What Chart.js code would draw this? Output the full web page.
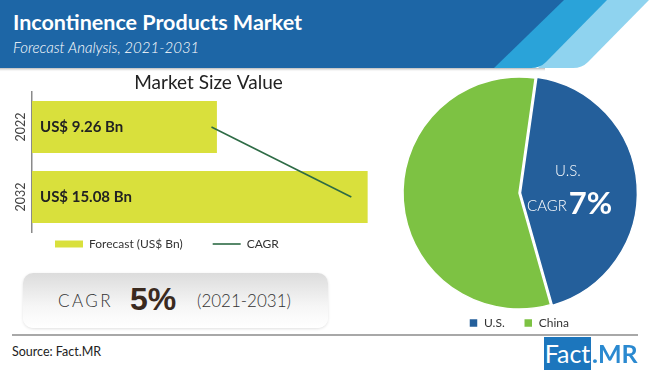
<!DOCTYPE html>
<html>
<head>
<meta charset="utf-8">
<script src="https://cdn.jsdelivr.net/npm/chart.js@4.4.0/dist/chart.umd.min.js"></script>
<style>
  body { margin: 0; width: 650px; height: 370px; overflow: hidden; background: #fff; position: relative; font-family: Lato, sans-serif; }
  #head { position: absolute; left: 0; top: 0; }
  .title { position: absolute; left: 13px; top: 9px; color: #fff; font: bold 21.5px Lato; }
  .sub { position: absolute; left: 13px; top: 38px; color: #fff; font: italic 300 15px Lato; }
  #bars { position: absolute; left: 0; top: 52px; }
  #pie { position: absolute; left: 390px; top: 68px; }
  .cagr { position: absolute; left: 23px; top: 273px; width: 305px; height: 55px; border-radius: 10px;
          background: linear-gradient(#dcdcdc, #f6f6f6 60%, #fff); box-shadow: 0 1px 3px rgba(0,0,0,0.12); }
  .cagr span { position: absolute; top: 0; color: #333; }
  .rule { position: absolute; left: 12px; top: 334px; width: 626px; height: 2px; background: #a8a8a8; }
  .src { position: absolute; left: 12px; top: 344px; font: 12.5px Lato; color: #222; }
  .logo1 { position: absolute; left: 544px; top: 337px; width: 47px; height: 33px; background: #1c76bd; color: #fff; font: 25px Lato; line-height: 33px; text-align: center; }
  .logo2 { position: absolute; left: 592px; top: 337px; color: #2a89d0; font: bold 25px Lato; line-height: 33px; }
</style>
</head>
<body>
<svg id="head" width="650" height="74">
  <defs>
    <linearGradient id="sh" x1="0" y1="0" x2="0" y2="1">
      <stop offset="0" stop-color="#b8b8b8"/>
      <stop offset="1" stop-color="#ffffff" stop-opacity="0"/>
    </linearGradient>
  </defs>
  <rect x="0" y="68" width="545" height="4" fill="url(#sh)"/>
  <path d="M605 0 H649 L588 62 Q582 68 573 68 H538 Z" fill="#8fd3ef"/>
  <path d="M562 0 H607 L546 62 Q540 68 531 68 H492 Z" fill="#2aa3d9"/>
  <path d="M0 0 H564 L494 68 H0 Z" fill="#1d66a6"/>
</svg>
<div class="title">Incontinence Products Market</div>
<div class="sub">Forecast Analysis, 2021-2031</div>

<div class="cagr">
  <span style="left:35px;font:300 17px Lato;line-height:55px;letter-spacing:2.5px;">CAGR</span>
  <span style="left:107px;font:bold 32px 'Liberation Sans Narrow', 'Liberation Sans';line-height:53px;color:#3a2a1f;">5%</span>
  <span style="left:174px;font:300 17px Lato;line-height:55px;">(2021-2031)</span>
</div>

<canvas id="bars" width="390" height="232"></canvas>
<canvas id="pie" width="258" height="271"></canvas>

<div class="rule"></div>
<div class="src">Source: Fact.MR</div>
<div class="logo1">Fact</div>
<div class="logo2">.MR</div>

<script>
// bar chart data
const years = ['2022', '2032'];
const forecast = [9.26, 15.08];
const cagrTrend = [9.05, 14.45];

// pie data
const regions = ['U.S.', 'China'];
const regionShare = [43.4, 56.6];
const usCagr = '7%';

// value labels inside bars + rotated year labels
const barText = {
  id: 'barText',
  afterDatasetsDraw(chart) {
    const ctx = chart.ctx;
    const y = chart.scales.y;
    const left = chart.chartArea.left;
    const meta = chart.getDatasetMeta(0);
    ctx.save();
    ctx.textBaseline = 'middle';
    ctx.textAlign = 'left';
    ctx.fillStyle = '#222';
    ctx.font = 'bold 15px Lato';
    meta.data.forEach((bar, i) => {
      ctx.fillText('US$ ' + forecast[i].toFixed(2) + ' Bn', left + 8, bar.y);
    });
    ctx.font = '12.5px Lato';
    ctx.fillStyle = '#444';
    ctx.textAlign = 'center';
    years.forEach((yr, i) => {
      ctx.save();
      ctx.translate(left - 11, y.getPixelForValue(i));
      ctx.rotate(-Math.PI / 2);
      ctx.fillText(yr, 0, 0);
      ctx.restore();
    });
    ctx.restore();
  }
};

// put the legend right under the bars
const legendSpot = {
  id: 'legendSpot',
  afterLayout(chart) {
    const lg = chart.legend;
    const pad = lg.options.labels.padding;
    lg.left = 55 - pad;
    lg.top = chart.chartArea.bottom + 12 - pad - 6;
    lg.bottom = lg.top + lg.height;
  }
};

new Chart(document.getElementById('bars'), {
  type: 'bar',
  data: {
    labels: years,
    datasets: [
      {
        label: 'Forecast (US$ Bn)',
        data: forecast,
        backgroundColor: '#d9e03c',
        barPercentage: 0.743,
        categoryPercentage: 1,
        pointStyle: 'rect',
        order: 1
      },
      {
        type: 'line',
        label: 'CAGR',
        data: cagrTrend,
        borderColor: '#2d6b45',
        backgroundColor: '#2d6b45',
        borderWidth: 1.6,
        pointRadius: 0,
        pointStyle: 'line',
        order: 0
      }
    ]
  },
  options: {
    indexAxis: 'y',
    responsive: false,
    animation: false,
    layout: { padding: { left: 32, right: 5 } },
    scales: {
      x: { display: false, min: 2.12, max: 15.75 },
      y: {
        ticks: { display: false },
        grid: { display: false, drawTicks: false },
        border: { color: '#8a8a8a', width: 1.5 }
      }
    },
    plugins: {
      title: {
        display: true,
        text: 'Market Size Value',
        color: '#222',
        font: { family: 'Lato', size: 19, weight: 'normal', lineHeight: 1 },
        padding: { top: 21, bottom: 0 }
      },
      legend: {
        position: 'bottom',
        align: 'start',
        labels: {
          usePointStyle: true,
          pointStyleWidth: 28,
          boxHeight: 7,
          padding: 30,
          color: '#333',
          font: { family: 'Lato', size: 12 },
          sort: (a, b) => a.datasetIndex - b.datasetIndex
        }
      },
      tooltip: { enabled: false }
    }
  },
  plugins: [barText, legendSpot]
});

// text inside the U.S. slice
const pieText = {
  id: 'pieText',
  afterDatasetsDraw(chart) {
    const ctx = chart.ctx;
    const p = chart.getDatasetMeta(0).data[0].getCenterPoint();
    ctx.save();
    ctx.fillStyle = '#fff';
    ctx.textBaseline = 'middle';
    ctx.textAlign = 'center';
    ctx.font = '300 15px Lato';
    ctx.fillText(regions[0], p.x - 12, p.y - 18);
    ctx.textAlign = 'right';
    ctx.fillText('CAGR', p.x - 13, p.y + 17);
    ctx.textAlign = 'left';
    ctx.font = 'bold 31px Lato';
    ctx.fillText(usCagr, p.x - 11, p.y + 15);
    ctx.restore();
  }
};

new Chart(document.getElementById('pie'), {
  type: 'pie',
  data: {
    labels: regions,
    datasets: [{
      data: regionShare,
      backgroundColor: ['#245f9b', '#7dc243'],
      borderColor: '#fff',
      borderWidth: 1.5,
      offset: [6, 0]
    }]
  },
  options: {
    responsive: false,
    animation: false,
    rotation: 8,
    radius: 116,
    layout: { padding: { top: 20 } },
    plugins: {
      legend: {
        position: 'bottom',
        labels: {
          boxWidth: 9,
          boxHeight: 9,
          padding: 19,
          color: '#333',
          font: { family: 'Lato', size: 12 }
        }
      },
      tooltip: { enabled: false }
    }
  },
  plugins: [pieText]
});
</script>
</body>
</html>
